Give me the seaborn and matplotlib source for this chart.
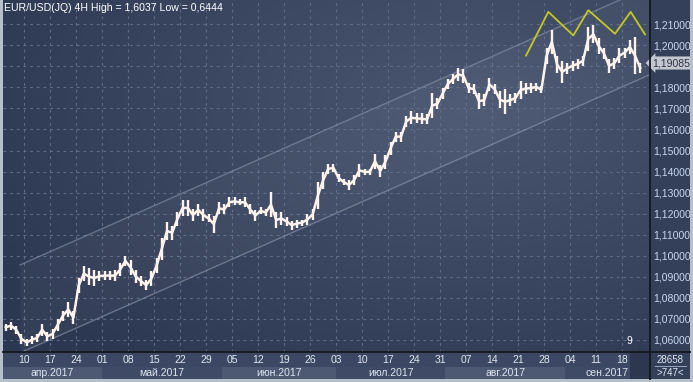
import numpy as np
import matplotlib
matplotlib.use("Agg")
import matplotlib.pyplot as plt
from matplotlib.lines import Line2D
from matplotlib.patches import Rectangle
import seaborn as sns

plt.rcParams['font.family'] = ['Liberation Sans', 'DejaVu Sans']

# EUR/USD, daily high/low (trading day index, Apr 4 .. Sep 21 2017)
day = np.arange(1, 124)
high = [1.0677, 1.0687, 1.0667, 1.0629, 1.0605, 1.0619, 1.0629, 1.0677, 1.0638, 1.0653,
        1.0701, 1.0739, 1.0778, 1.0735, 1.0893, 1.0951, 1.0941, 1.0932, 1.0927, 1.0927,
        1.0927, 1.0932, 1.0965, 1.0999, 1.0980, 1.0932, 1.0903, 1.0884, 1.0927, 1.0989,
        1.1086, 1.1158, 1.1143, 1.1206, 1.1263, 1.1263, 1.1220, 1.1244, 1.1220, 1.1196,
        1.1191, 1.1254, 1.1244, 1.1278, 1.1278, 1.1268, 1.1278, 1.1244, 1.1215, 1.1230,
        1.1220, 1.1302, 1.1206, 1.1206, 1.1182, 1.1167, 1.1172, 1.1172, 1.1196, 1.1220,
        1.1350, 1.1398, 1.1437, 1.1437, 1.1388, 1.1364, 1.1360, 1.1384, 1.1437, 1.1413,
        1.1413, 1.1485, 1.1432, 1.1480, 1.1542, 1.1590, 1.1590, 1.1662, 1.1687, 1.1677,
        1.1677, 1.1672, 1.1773, 1.1749, 1.1797, 1.1840, 1.1864, 1.1893, 1.1888, 1.1821,
        1.1816, 1.1773, 1.1768, 1.1845, 1.1816, 1.1783, 1.1792, 1.1768, 1.1773, 1.1831,
        1.1821, 1.1821, 1.1821, 1.1807, 1.1989, 1.2071, 1.1951, 1.1927, 1.1917, 1.1927,
        1.1937, 1.1951, 1.2086, 1.2095, 1.2033, 1.1989, 1.1937, 1.1941, 1.1985, 1.1989,
        1.2023, 1.2038, 1.1917]
low = [1.0643, 1.0648, 1.0629, 1.0581, 1.0571, 1.0581, 1.0590, 1.0619, 1.0595, 1.0605,
       1.0643, 1.0692, 1.0711, 1.0677, 1.0821, 1.0879, 1.0860, 1.0855, 1.0879, 1.0884,
       1.0884, 1.0879, 1.0903, 1.0951, 1.0908, 1.0869, 1.0855, 1.0836, 1.0855, 1.0917,
       1.0980, 1.1076, 1.1076, 1.1143, 1.1191, 1.1191, 1.1167, 1.1191, 1.1167, 1.1158,
       1.1110, 1.1196, 1.1196, 1.1230, 1.1239, 1.1239, 1.1230, 1.1196, 1.1167, 1.1196,
       1.1191, 1.1182, 1.1134, 1.1148, 1.1143, 1.1124, 1.1134, 1.1143, 1.1148, 1.1172,
       1.1220, 1.1316, 1.1388, 1.1398, 1.1350, 1.1336, 1.1312, 1.1336, 1.1374, 1.1384,
       1.1384, 1.1413, 1.1374, 1.1413, 1.1480, 1.1542, 1.1542, 1.1614, 1.1624, 1.1629,
       1.1624, 1.1624, 1.1653, 1.1696, 1.1744, 1.1792, 1.1816, 1.1831, 1.1821, 1.1773,
       1.1768, 1.1696, 1.1711, 1.1783, 1.1768, 1.1701, 1.1672, 1.1711, 1.1725, 1.1744,
       1.1768, 1.1773, 1.1783, 1.1773, 1.1913, 1.1961, 1.1869, 1.1821, 1.1864, 1.1879,
       1.1888, 1.1903, 1.1975, 1.2009, 1.1961, 1.1937, 1.1869, 1.1888, 1.1917, 1.1941,
       1.1961, 1.1864, 1.1869]
last_price = 1.19085

week_ticks = np.arange(5, 121, 5)
week_labels = ['10', '17', '24', '01', '08', '15', '22', '29', '05', '12', '19', '26',
               '03', '10', '17', '24', '31', '07', '14', '21', '28', '04', '11', '18']
month_edges = [0.96, 20, 43, 65, 86, 109, 125.4]
month_labels = ['апр.2017', 'май.2017', 'июн.2017', 'июл.2017', 'авг.2017', 'сен.2017']
price_ticks = [1.06, 1.07, 1.08, 1.09, 1.10, 1.11, 1.12, 1.13, 1.14, 1.15,
               1.16, 1.17, 1.18, 1.19, 1.20, 1.21]

channel_x = [4.23, 125.4]
channel_upper = [1.0956, 1.2279]
channel_lower = [1.0538, 1.1861]

zig_x = [101.54, 105.83, 110.63, 113.52, 118.65, 121.67, 124.42]
zig_y = [1.1951, 1.2159, 1.2047, 1.2167, 1.2055, 1.2159, 1.2052]

W, H = 693, 382


def rect(x0, y0, x1, y1):
    return [x0 / W, 1 - y1 / H, (x1 - x0) / W, (y1 - y0) / H]


fig = plt.figure(figsize=(6.93, 3.82), dpi=100)
fig.patch.set_facecolor('#34405a')

ax = fig.add_axes(rect(3, 0, 650, 352))
axb = fig.add_axes(rect(3, 352, 650, 379), sharex=ax)

ax.set_xlim(0.962, 125.38)
ax.set_ylim(1.05423, 1.22154)

# background gradient
u = np.linspace(0, 1, 200)[None, :]
v = np.linspace(0, 1, 100)[:, None]
f = np.clip(1 - np.sqrt(((u - 0.72) / 0.85) ** 2 + ((v - 0.3) / 0.95) ** 2), 0, 1)
dark = np.array([0x2c, 0x37, 0x51]) / 255
light = np.array([0x4a, 0x56, 0x70]) / 255
img = dark[None, None, :] + (light - dark)[None, None, :] * f[:, :, None]
ax.imshow(img, extent=[0, 1, 0, 1], transform=ax.transAxes, aspect='auto', zorder=0)

for s in ax.spines.values():
    s.set_visible(False)

grid_kw = dict(color='#5f6c88', lw=0.8, ls=(0, (2.5, 3.5)), zorder=1)
for x in week_ticks:
    ax.axvline(x, **grid_kw)
for y in price_ticks:
    ax.axhline(y, **grid_kw)

# channel
ax.fill_between(channel_x, channel_lower, channel_upper, color='white', alpha=0.035, lw=0, zorder=1)
sns.lineplot(x=channel_x, y=channel_upper, ax=ax, color='#8c97ad', lw=1.0, alpha=0.6, zorder=2)
sns.lineplot(x=channel_x, y=channel_lower, ax=ax, color='#8c97ad', lw=1.0, alpha=0.6, zorder=2)

# price
xc = day + 0.5
mid = (np.array(high) + np.array(low)) / 2
ax.vlines(xc, low, high, color='#fdf3ec', lw=1.7, zorder=4)
sns.lineplot(x=xc, y=mid, ax=ax, color='#fdf3ec', lw=1.8, zorder=4)

# head & shoulders zigzag
sns.lineplot(x=zig_x, y=zig_y, ax=ax, color='#c5c823', lw=1.3, zorder=5, sort=False)

ax.set_xlabel('')
ax.set_ylabel('')
ax.tick_params(axis='x', bottom=False, labelbottom=False)
ax.yaxis.tick_right()
ax.set_yticks(price_ticks)
ax.set_yticklabels(['' if abs(p - 1.19) < 1e-9 else f'{p:.5f}'.replace('.', ',') for p in price_ticks])
ax.tick_params(axis='y', length=0, pad=2, labelsize=7.5, labelcolor='#c9d7ee')

ax.text(0.002, 0.978, 'EUR/USD(JQ) 4H High = 1,6037 Low = 0,6444', transform=ax.transAxes,
        color='white', fontsize=7.6, va='center', ha='left', zorder=6)
ax.text(1.004, 1.0 - 63 / 352, f'{last_price:.5f}'.replace('.', ','), transform=ax.transAxes,
        color='#2a3142', fontsize=7.5, va='center', ha='left', clip_on=False, zorder=7,
        bbox=dict(boxstyle='larrow,pad=0.15', fc='#c3c7cf', ec='none'))
ax.text(121.5, 1.21 - (337 - 24) / 2080, '9', color='white', fontsize=7.5,
        ha='center', va='center', zorder=6)
ax.plot([0.985], [0.012], transform=ax.transAxes, marker='^', ms=7,
        color='#2f3b53', clip_on=False, zorder=6)

# bottom date axis
axb.set_ylim(0, 1)
axb.set_facecolor('#3c4863')
for s in axb.spines.values():
    s.set_visible(False)
axb.tick_params(left=False, bottom=False, labelleft=False, labelbottom=False)
band_colors = ['#4d5972', '#3f4b66']
for i, lbl in enumerate(month_labels):
    x0, x1 = month_edges[i], month_edges[i + 1]
    axb.axvspan(x0, x1, 0, 0.46, color=band_colors[i % 2], lw=0)
    axb.text((x0 + x1) / 2, 0.23, lbl, color='#dfe6f0', fontsize=7.5, ha='center', va='center')
axb.axvspan(121.6, 125.4, 0, 1, color='#2d3850', lw=0)
for x, lbl in zip(week_ticks, week_labels):
    axb.text(x, 0.7, lbl, color='#dfe6f0', fontsize=7.5, ha='center', va='center')

# right-bottom counters
fig.text(670 / W, 1 - 360 / H, '28658', color='#dfe6f0', fontsize=7, ha='center', va='center')
fig.text(670 / W, 1 - 372.5 / H, '>747<', color='#dfe6f0', fontsize=7, ha='center', va='center')
fig.add_artist(Line2D([655 / W, 686 / W], [1 - 366 / H, 1 - 366 / H], color='#9aa6ba', lw=0.7))

# frame lines
fig.add_artist(Line2D([650 / W, 650 / W], [1 - 379 / H, 1], color='#14181f', lw=1.3))
fig.add_artist(Line2D([3 / W, 690 / W], [1 - 352 / H, 1 - 352 / H], color='#14181f', lw=1.3))
border = '#b7bfcb'
fig.add_artist(Rectangle((0, 0), 3 / W, 1, transform=fig.transFigure, color=border, lw=0))
fig.add_artist(Rectangle((0, 0), 1, 3 / H, transform=fig.transFigure, color=border, lw=0))
fig.add_artist(Rectangle((690 / W, 0), 3 / W, 1, transform=fig.transFigure, color=border, lw=0))

fig.savefig('out.png', dpi=100, facecolor=fig.get_facecolor())
